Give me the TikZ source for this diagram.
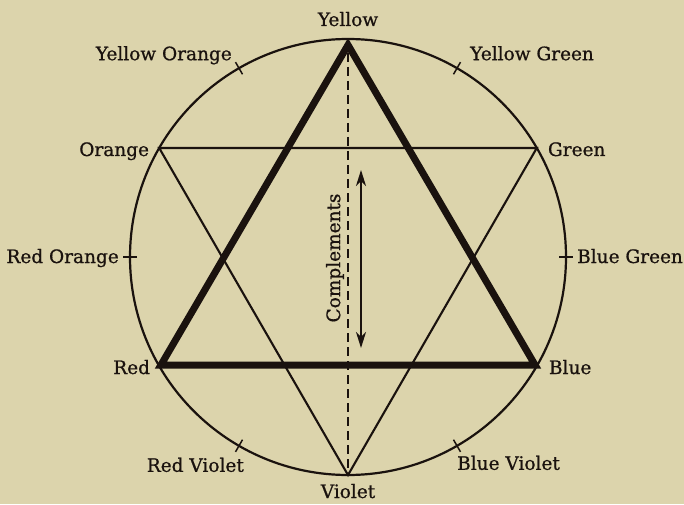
\documentclass[tikz,border=0pt]{standalone}
\usepackage{fontspec}
\setmainfont{DejaVu Serif}
\newfontfamily\huefont[FakeBold=0.8]{DejaVu Serif}
\usepackage{tikz}
\usetikzlibrary{arrows.meta,positioning,calc}
\definecolor{Paper}{HTML}{DCD4AC}
\definecolor{Ink}{HTML}{1A120E}
\tikzset{
  hue/.style={font=\huefont\fontsize{18.5}{22}\selectfont,text=Ink,inner sep=0pt},
  wheel/.style={draw=Ink,line width=2.2pt},
  secondary/.style={draw=Ink,line width=2.1pt,line join=miter},
  primary/.style={draw=Ink,line width=7pt,line join=miter},
  tickmark/.style={draw=Ink,line width=1.5pt},
  axis/.style={draw=Ink,line width=1.8pt,dash pattern=on 9pt off 5pt},
  twoway/.style={{Stealth[length=16pt,width=10pt,inset=5pt]}-{Stealth[length=16pt,width=10pt,inset=5pt]},draw=Ink,line width=1.6pt}
}

\begin{document}
\begin{tikzpicture}[x=1pt,y=1pt]
  \fill[Paper] (0,0) rectangle (684,504);
  \useasboundingbox (0,0) rectangle (684,504);
  \coordinate (c) at (348,247);
  % hues on the wheel
  \coordinate (yellow) at ($(c)+(90:218)$);
  \coordinate (green)  at ($(c)+(30:218)$);
  \coordinate (blue)   at ($(c)+(-30:218)$);
  \coordinate (violet) at ($(c)+(-90:218)$);
  \coordinate (red)    at ($(c)+(210:218)$);
  \coordinate (orange) at ($(c)+(150:218)$);
  \coordinate (yo) at ($(c)+(120:218)$);
  \coordinate (yg) at ($(c)+(60:218)$);
  \coordinate (bg) at ($(c)+(0:218)$);
  \coordinate (bv) at ($(c)+(-60:218)$);
  \coordinate (rv) at ($(c)+(240:218)$);
  \coordinate (ro) at ($(c)+(180:218)$);
  \draw[wheel] (c) circle (218);
  \draw[tickmark] ($(c)+(120:211)$) -- ($(c)+(120:225)$);
  \draw[tickmark] ($(c)+(60:211)$) -- ($(c)+(60:225)$);
  \draw[tickmark] ($(c)+(0:211)$) -- ($(c)+(0:225)$);
  \draw[tickmark] ($(c)+(-60:211)$) -- ($(c)+(-60:225)$);
  \draw[tickmark] ($(c)+(240:211)$) -- ($(c)+(240:225)$);
  \draw[tickmark] ($(c)+(180:211)$) -- ($(c)+(180:225)$);
  \draw[axis] (yellow) -- (violet);
  \draw[secondary] (orange) -- (green) -- (violet) -- cycle;
  \draw[primary] ($(c)+(90:212)$) -- ($(c)+(210:216)$) -- ($(c)+(-30:216)$) -- cycle;
  % labels
  \node[hue,anchor=base] (yellowlbl) at ($(yellow)+(0,13)$) {Yellow};
  \node[hue,anchor=base east] (yolbl) at ($(yo)+(-7,8)$) {Yellow Orange};
  \node[hue,anchor=base west] (yglbl) at ($(yg)+(13,8)$) {Yellow Green};
  \node[hue,anchor=base east] (orangelbl) at ($(orange)+(-10,-8)$) {Orange};
  \node[hue,anchor=base west] (greenlbl) at ($(green)+(11,-8)$) {Green};
  \node[hue,anchor=base east] (rolbl) at ($(ro)+(-11,-6)$) {Red Orange};
  \node[hue,anchor=base west] (bglbl) at ($(bg)+(11,-6)$) {Blue Green};
  \node[hue,anchor=base east] (redlbl) at ($(red)+(-9,-8)$) {Red};
  \node[hue,anchor=base west] (bluelbl) at ($(blue)+(12,-8)$) {Blue};
  \node[hue,anchor=base east] (rvlbl) at ($(rv)+(5,-26)$) {Red Violet};
  \node[hue,anchor=base west] (bvlbl) at ($(bv)+(0,-24)$) {Blue Violet};
  \node[hue,anchor=base] (violetlbl) at ($(violet)+(0,-23)$) {Violet};
  % complements
  \coordinate (cup) at ($(c)+(13,87)$);
  \coordinate (cdown) at ($(c)+(13,-91)$);
  \draw[twoway] (cup) -- (cdown);
  \node[hue,rotate=90] (compl) at ($(c)+(-13,-1)$) {Complements};
\end{tikzpicture}
\end{document}
